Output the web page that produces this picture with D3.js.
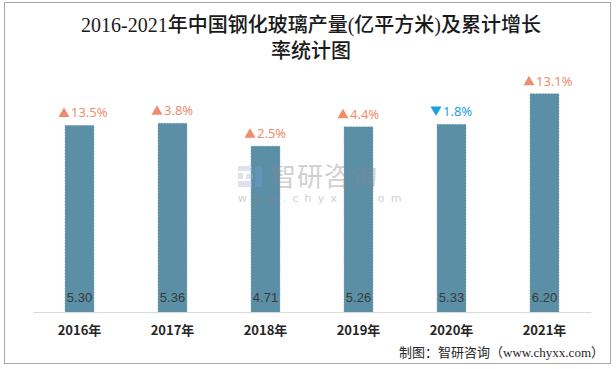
<!DOCTYPE html>
<html>
<head>
<meta charset="utf-8">
<script src="https://cdn.jsdelivr.net/npm/d3@7/dist/d3.min.js"></script>
<style>
  html, body { margin: 0; padding: 0; background: #fff; }
  svg { display: block; }
</style>
</head>
<body>
<svg id="chart" width="616" height="369"></svg>
<script>
const years = ["2016年", "2017年", "2018年", "2019年", "2020年", "2021年"];
const output = [5.30, 5.36, 4.71, 5.26, 5.33, 6.20];
const growth = [13.5, 3.8, 2.5, 4.4, -1.8, 13.1];
const growthLabels = ["13.5%", "3.8%", "2.5%", "4.4%", "1.8%", "13.1%"];
const titleLines = ["2016-2021年中国钢化玻璃产量(亿平方米)及累计增长", "率统计图"];
const sourceText = "制图：智研咨询（www.chyxx.com）";

const svg = d3.select("#chart");

// outer border
svg.append("rect")
  .attr("x", 4.5).attr("y", 2.5)
  .attr("width", 606).attr("height", 361)
  .attr("fill", "none").attr("stroke", "#a8a8a8").attr("stroke-width", 1);

// title
svg.append("g").selectAll("text").data(titleLines).join("text")
  .attr("x", 311)
  .attr("y", (d, i) => 32 + i * 26)
  .attr("text-anchor", "middle")
  .attr("font-family", "'Liberation Serif', 'Noto Sans CJK SC', serif")
  .attr("font-size", 20)
  .attr("font-weight", 500)
  .attr("fill", "#1a1a1a")
  .text(d => d);

const x = d3.scaleBand().domain(years).range([33, 591]).paddingInner(0.69).paddingOuter(0.345);
const y = d3.scaleLinear().domain([0, 7]).range([312, 65.6]);

// bars
svg.append("g").selectAll("rect").data(output).join("rect")
  .attr("x", (d, i) => x(years[i]))
  .attr("y", d => y(d))
  .attr("width", x.bandwidth())
  .attr("height", d => y(0) - y(d))
  .attr("fill", "#5b8fa6")
  .attr("stroke", "#55889f")
  .attr("stroke-width", 0.6)
  .attr("stroke-dasharray", "1.5,1.5");

// watermark (drawn over bars)
const wm = svg.append("g").attr("opacity", 0.4);
const iconX = 238, iconY = 166;
[[0,0,14,5],[0,7,5,6],[0,15,14,6],[17,0,7,21],[8,8,7,5]].forEach(r => {
  wm.append("rect").attr("x", iconX + r[0]).attr("y", iconY + r[1])
    .attr("width", r[2]).attr("height", r[3])
    .attr("fill", r[0] === 17 ? "#6a9fd4" : "#a9b9d6");
});
wm.append("text").attr("x", 270).attr("y", 186)
  .attr("font-family", "'Noto Sans CJK SC', sans-serif")
  .attr("font-size", 26).attr("fill", "#8a8a8a").attr("letter-spacing", 1)
  .text("智研咨询");
wm.append("text").attr("x", 238).attr("y", 202)
  .attr("font-family", "'DejaVu Sans', sans-serif")
  .attr("font-size", 11).attr("fill", "#8a8a8a").attr("letter-spacing", 6.2)
  .text("www.chyxx.com");

// axis
const xAxis = d3.axisBottom(x).tickSize(0).tickPadding(14);
const ax = svg.append("g").attr("transform", `translate(0,${y(0)})`).call(xAxis);
ax.select(".domain").attr("stroke", "#d9d9d9").attr("stroke-width", 1);
ax.selectAll("text")
  .attr("font-family", "'Noto Sans CJK SC', sans-serif")
  .attr("font-size", 13)
  .attr("font-weight", "bold")
  .attr("fill", "#262626");

// value labels inside bars
svg.append("g").selectAll("text").data(output).join("text")
  .attr("x", (d, i) => x(years[i]) + x.bandwidth() / 2)
  .attr("y", y(0) - 10)
  .attr("text-anchor", "middle")
  .attr("font-family", "'Liberation Sans', Arial, sans-serif")
  .attr("font-size", 13)
  .attr("fill", "#3a3a3a")
  .text(d => d.toFixed(2));

// growth labels
const gl = svg.append("g").selectAll("g").data(growth).join("g")
  .attr("transform", (d, i) => `translate(${x(years[i]) + x.bandwidth() / 2},${y(output[i]) - 13})`);
gl.append("path")
  .attr("d", d => d >= 0 ? "M-21,4.5 L-15.5,-5 L-10,4.5 Z" : "M-21,-5 L-15.5,4.5 L-10,-5 Z")
  .attr("fill", d => d >= 0 ? "#f08c6e" : "#1ba1e2");
gl.append("text")
  .attr("x", -8.5)
  .attr("y", 4.8)
  .attr("font-family", "'Noto Sans', 'DejaVu Sans', sans-serif")
  .attr("font-size", 13)
  .attr("fill", d => d >= 0 ? "#f08c6e" : "#1ba1e2")
  .text((d, i) => growthLabels[i]);

// source
svg.append("text")
  .attr("x", 604).attr("y", 357)
  .attr("text-anchor", "end")
  .attr("font-family", "'Liberation Serif', 'Noto Sans CJK SC', serif")
  .attr("font-size", 13)
  .attr("fill", "#262626")
  .text(sourceText);
</script>
</body>
</html>
